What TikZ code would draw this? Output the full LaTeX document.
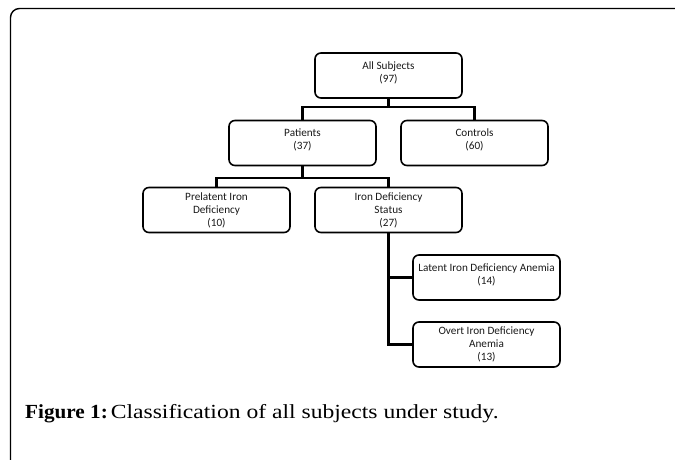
\documentclass[tikz,border=0pt]{standalone}
\usepackage{fontspec}
\setmainfont{Liberation Serif}
\newfontfamily\boxfont{Carlito}
\newfontfamily\capfont[FakeStretch=1.06]{Liberation Serif}
\newfontfamily\capreg[FakeStretch=1.18]{Liberation Serif}
\begin{document}
\begin{tikzpicture}[x=1pt,y=-1pt,
  box/.style={draw=black,line width=1.6pt,rounded corners=6pt,minimum width=147pt,minimum height=45pt,
    align=center,inner sep=0.5pt,font=\boxfont\fontsize{11.2}{13}\selectfont,text=black!90},
  conn/.style={draw=black,line width=2.2pt},
  frame/.style={draw=black,line width=1.4pt,rounded corners=9pt}]
\useasboundingbox (0,0) rectangle (675,460);
\draw[frame] (10.5,460) |- (675,8.5);
\node[box] (all) at (388.5,75.5) {All Subjects\\(97)\\[-6pt]~};
\node[box] (pat) at (302.5,143) {Patients\\(37)\\[-6pt]~};
\node[box] (con) at (474.5,143) {Controls\\(60)\\[-6pt]~};
\node[box] (pre) at (216.5,210) {Prelatent Iron\\Deficiency\\(10)};
\node[box] (ids) at (388.5,210) {Iron Deficiency\\Status\\(27)};
\node[box] (lat) at (486.5,277.5) {Latent Iron Deficiency Anemia\\(14)\\[-6pt]~};
\node[box] (ovt) at (486.5,344.5) {Overt Iron Deficiency\\Anemia\\(13)};
\coordinate (j1) at (388.5,107);
\coordinate (j2) at (302.5,178);
\draw[conn] (all.south) -- (j1);
\draw[conn] (pat.north) |- (j1) -| (con.north);
\draw[conn] (pat.south) -- (j2);
\draw[conn] (pre.north) |- (j2) -| (ids.north);
\draw[conn] (ids.south) |- (ovt.west);
\draw[conn] (ids.south |- lat.west) -- (lat.west);
\node[anchor=base west,inner sep=0pt,font=\fontsize{20}{24}\selectfont] (cap) at (25,418)
  {{\capfont\bfseries Figure 1:}\hspace{3pt}{\capreg Classification of all subjects under study.}};
\end{tikzpicture}
\end{document}
